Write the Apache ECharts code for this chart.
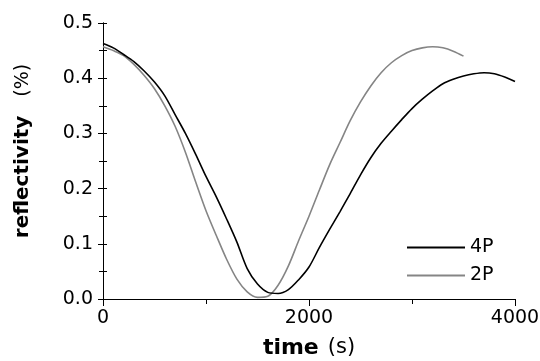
<!DOCTYPE html>
<html>
<head>
<meta charset="utf-8">
<script src="https://cdn.jsdelivr.net/npm/echarts@6/dist/echarts.min.js"></script>
<style>html,body{margin:0;padding:0;background:#fff}#c{width:540px;height:361px}</style>
</head>
<body>
<div id="c"></div>
<script>
const time4P = [0,100,200,300,400,500,600,700,800,900,1000,1100,1200,1300,1400,1500,1600,1700,1800,1900,2000,2100,2200,2300,2400,2500,2600,2700,2800,2900,3000,3100,3200,3300,3400,3500,3600,3700,3800,3900,4000];
const refl4P = [0.463,0.455,0.443,0.430,0.413,0.393,0.368,0.334,0.300,0.262,0.222,0.185,0.145,0.103,0.055,0.027,0.012,0.010,0.017,0.035,0.058,0.093,0.126,0.158,0.191,0.225,0.256,0.282,0.304,0.325,0.345,0.362,0.377,0.390,0.398,0.404,0.408,0.410,0.408,0.402,0.394];
const time2P = [0,100,200,300,400,500,600,700,800,900,1000,1100,1200,1300,1400,1500,1600,1700,1800,1900,2000,2100,2200,2300,2400,2500,2600,2700,2800,2900,3000,3100,3200,3300,3400,3500];
const refl2P = [0.457,0.450,0.441,0.425,0.405,0.381,0.350,0.313,0.266,0.212,0.160,0.115,0.072,0.036,0.013,0.003,0.005,0.025,0.060,0.106,0.150,0.197,0.243,0.283,0.323,0.357,0.386,0.410,0.428,0.441,0.450,0.455,0.457,0.455,0.449,0.440];
const seriesNames = ['4P','2P'];
const xTicks = {min:0, max:4000, interval:2000};
const yTicks = {min:0, max:0.5, interval:0.1};

const FONT = 'DejaVu Sans';
const gridRect = {left:103, right:25, top:23, bottom:62, outerBoundsMode:'none', containLabel:false};
const lineC = {show:true, lineStyle:{color:'#000', width:1}};

const chart = echarts.init(document.getElementById('c'), null, {renderer:'canvas'});
chart.setOption({
  animation:false,
  backgroundColor:'#fff',
  grid:[
    Object.assign({}, gridRect),
    Object.assign({}, gridRect),
    Object.assign({}, gridRect)
  ],
  legend:{
    orient:'vertical', left:402, top:233, itemWidth:58, itemHeight:2, itemGap:9,
    icon:'rect',
    textStyle:{fontFamily:FONT, fontSize:19, color:'#000'},
    data:seriesNames
  },
  xAxis:[
    {gridIndex:0, type:'value', position:'bottom', min:xTicks.min, max:xTicks.max, interval:xTicks.interval,
     axisLine:lineC, splitLine:{show:false},
     axisTick:{show:true, inside:false, length:7, lineStyle:{color:'#000'}},
     minorTick:{show:true, splitNumber:2, length:4, lineStyle:{color:'#000'}},
     axisLabel:{fontFamily:FONT, fontSize:19, color:'#000', margin:10, formatter:v=>String(v)},
     name:'{b|time}{n|(s)}', nameLocation:'middle', nameGap:38,
     nameTextStyle:{rich:{b:{fontFamily:FONT, fontSize:22, fontWeight:'bold', color:'#000'}, n:{fontFamily:FONT, fontSize:21, color:'#000', padding:[0,0,0,9]}}}
    },
    {gridIndex:1, type:'value', position:'top', min:0, max:4000, interval:1000,
     axisLine:lineC, splitLine:{show:false},
     axisTick:{show:true, inside:true, length:5, lineStyle:{color:'#000'}},
     axisLabel:{show:false}},
    {gridIndex:2, type:'value', position:'bottom', min:0, max:4000, interval:1000,
     axisLine:{show:false}, splitLine:{show:false}, axisTick:{show:false}, axisLabel:{show:false}}
  ],
  yAxis:[
    {gridIndex:0, type:'value', position:'left', min:yTicks.min, max:yTicks.max, interval:yTicks.interval,
     axisLine:lineC, splitLine:{show:false},
     axisTick:{show:true, inside:false, length:5, lineStyle:{color:'#000'}},
     axisLabel:{fontFamily:FONT, fontSize:19, color:'#000', margin:10, formatter:v=>v.toFixed(1)},
     name:'{b|reflectivity}{n|(%)}', nameLocation:'middle', nameGap:70,
     nameTextStyle:{padding:[0,0,0,20], rich:{b:{fontFamily:FONT, fontSize:20, fontWeight:'bold', color:'#000'}, n:{fontFamily:FONT, fontSize:19, color:'#000', padding:[0,0,0,19]}}}
    },
    {gridIndex:1, type:'value', position:'right', min:0, max:0.5, interval:0.05,
     axisLine:lineC, splitLine:{show:false},
     axisTick:{show:true, inside:true, length:4, lineStyle:{color:'#000'}},
     axisLabel:{show:false}},
    {gridIndex:2, type:'value', position:'left', min:0, max:0.5, interval:0.05,
     axisLine:{show:false}, splitLine:{show:false},
     axisTick:{show:true, inside:true, length:4, lineStyle:{color:'#000'}},
     axisLabel:{show:false}}
  ],
  series:[
    {name:seriesNames[1], type:'line', xAxisIndex:0, yAxisIndex:0, symbol:'none', showSymbol:false, smooth:0.3,
     lineStyle:{color:'#858585', width:1.6}, itemStyle:{color:'#858585'},
     data: time2P.map((t,i)=>[t, refl2P[i]])},
    {name:seriesNames[0], type:'line', xAxisIndex:0, yAxisIndex:0, symbol:'none', showSymbol:false, smooth:0.3,
     lineStyle:{color:'#000', width:1.6}, itemStyle:{color:'#000'},
     data: time4P.map((t,i)=>[t, refl4P[i]])}
  ]
});
</script>
</body>
</html>
